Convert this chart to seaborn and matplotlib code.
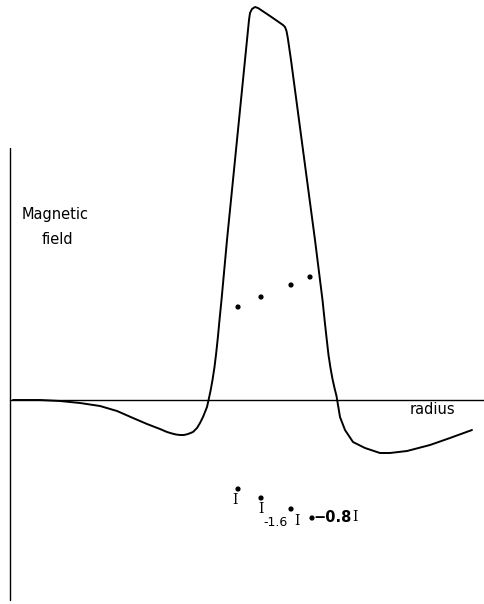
import matplotlib
matplotlib.use("Agg")
import matplotlib.pyplot as plt
import seaborn as sns
import pandas as pd

sns.set_theme(style="white")
plt.rcParams['font.family'] = ['DejaVu Sans']
plt.rcParams['text.color'] = 'black'

# Curve: radius (x) vs magnetic field (y, positive up; axis at 0)
radius = [13, 40, 60, 80, 100, 117, 133, 147, 160, 167, 172, 176, 180, 184, 188, 193, 197, 200, 203, 205, 207, 209,
          210.7, 212.5, 214.5, 216.2, 217.8, 219.5, 221.5, 227, 233, 239, 245, 248, 249, 250, 252, 255, 258, 270,
          283, 285, 286.5, 287.8, 291, 299, 307, 315, 322.5, 324.8, 326.8, 328.5, 330.5, 332.5, 334.5, 336.5, 338, 340,
          345, 353, 365, 380, 390, 407, 430, 450, 472]
field = [0, 0, -1, -3, -6, -11, -18, -24, -29, -32, -33.5, -34.5, -35, -35, -34, -32, -28, -23, -17, -12, -7, 2,
         10, 20, 33, 47, 62, 80, 100, 160, 220, 280, 340, 370, 380, 387, 391, 393, 392, 384,
         375, 373, 369, 362, 340, 280, 220, 160, 100, 78, 60, 45, 32, 21, 12, 4, -5, -17,
         -30, -42, -48, -53, -53, -51, -45, -38, -30]

# Upper data points
dots_up_r = [238, 261, 291, 310]
dots_up_f = [93, 103, 115, 123]
# Lower data points
dots_lo_r = [238, 261, 291, 312]
dots_lo_f = [-89, -98, -109, -118]
# Error-bar-like "I" marks
err_r = [235, 261, 297, 355]
err_f = [-100, -109, -121, -117]

fig = plt.figure(figsize=(4.84, 6.04), dpi=100)
ax = fig.add_axes([0, 0, 1, 1])
ax.set_xlim(0, 484)
ax.set_ylim(-204, 400)
ax.axis("off")

# axes lines
ax.axhline(0, xmin=10/484, xmax=1, color="black", lw=1.0)
ax.axvline(10, ymin=(604-600)/604, ymax=(604-148)/604, color="black", lw=1.0)

df = pd.DataFrame({"radius": radius, "field": field})
sns.lineplot(data=df, x="radius", y="field", sort=False, estimator=None,
             color="black", lw=1.4, ax=ax)

sns.scatterplot(x=dots_up_r, y=dots_up_f, color="black", s=14, edgecolor="none", ax=ax)
sns.scatterplot(x=dots_lo_r, y=dots_lo_f, color="black", s=14, edgecolor="none", ax=ax)

for r, f in zip(err_r, err_f):
    ax.text(r, f, "I", family="DejaVu Serif", fontsize=10, ha="center", va="center", color="black")

ax.text(276, -123, "-1.6", fontsize=9, ha="center", va="center", color="black")
ax.text(333, -117, "\u22120.8", fontsize=10.5, fontweight="bold", ha="center", va="center", color="black")

ax.text(55, 185, "Magnetic", fontsize=10.5, ha="center", va="center", color="black")
ax.text(57, 160, "field", fontsize=10.5, ha="center", va="center", color="black")
ax.text(432, -10, "radius", fontsize=10.5, ha="center", va="center", color="black")

fig.savefig("out.png", dpi=100, facecolor="white")
